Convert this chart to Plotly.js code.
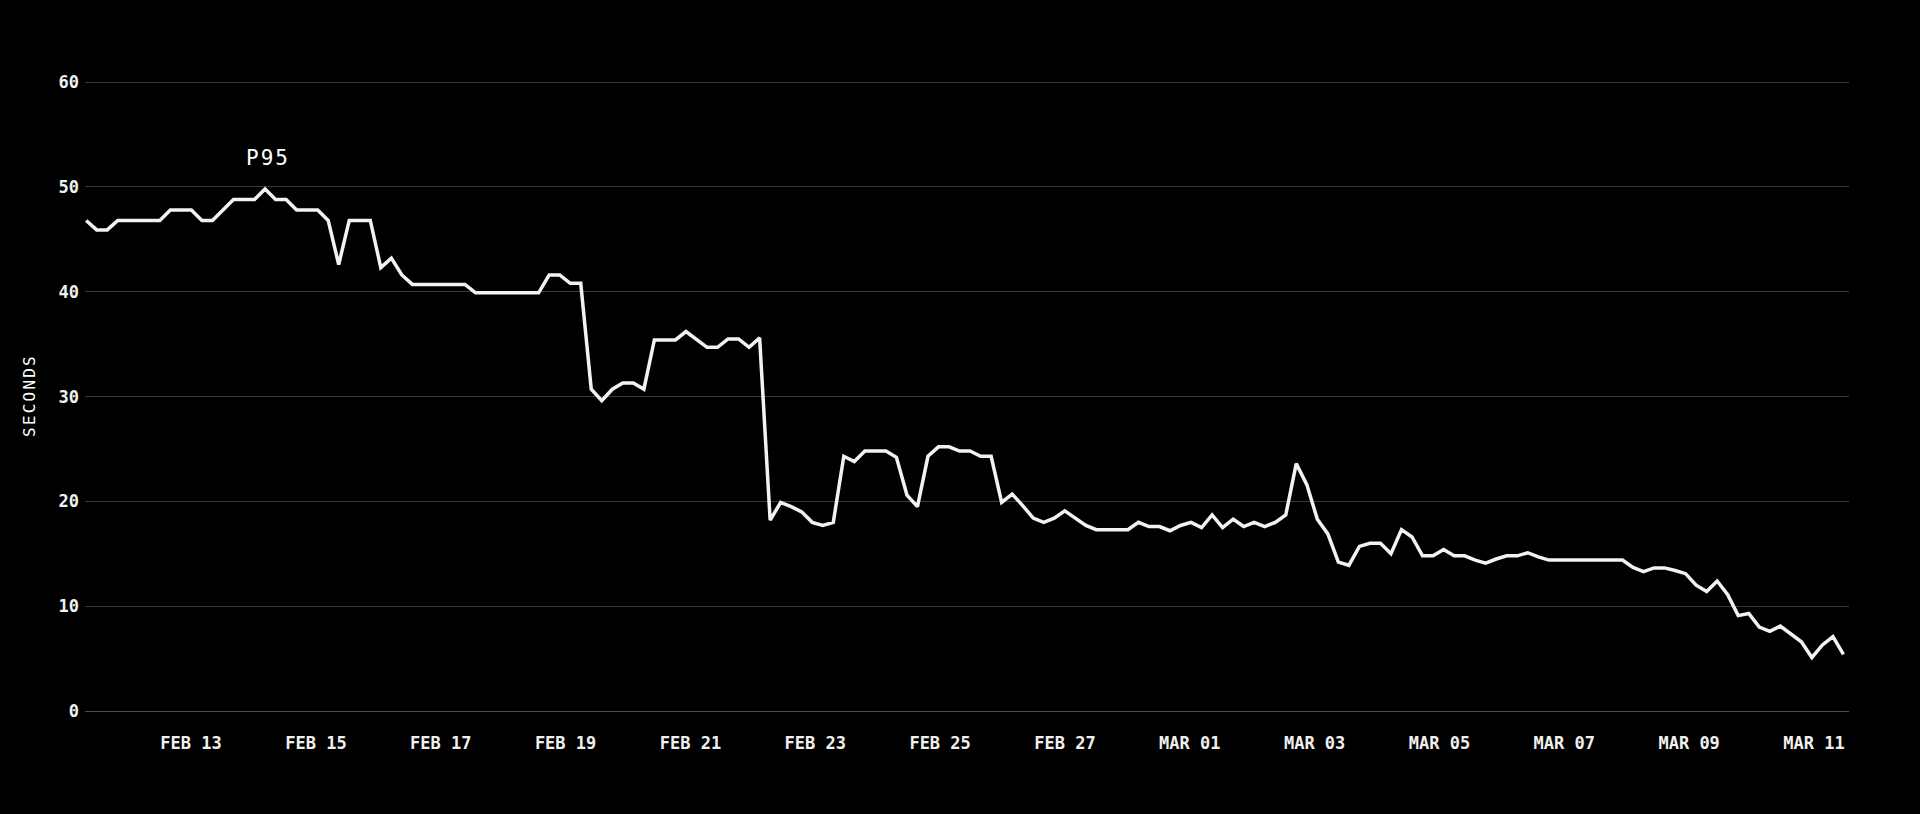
<!DOCTYPE html>
<html>
<head>
<meta charset="utf-8">
<script src="https://cdn.plot.ly/plotly-3.0.1.min.js"></script>
<style>
  html, body { margin: 0; padding: 0; background: #000; }
  #chart { width: 1920px; height: 814px; }
  .ytitle { letter-spacing: 2.2px; }
  .annotation-text { letter-spacing: 2px; }
</style>
</head>
<body>
<div id="chart"></div>
<script>
// P95 duration in seconds, one reading roughly every 4 hours
const p95Seconds = [
  46.8, 45.9, 45.9, 46.8, 46.8, 46.8, 46.8, 46.8, 47.8, 47.8,
  47.8, 46.8, 46.8, 47.8, 48.8, 48.8, 48.8, 49.8, 48.8, 48.8,
  47.8, 47.8, 47.8, 46.8, 42.6, 46.8, 46.8, 46.8, 42.3, 43.2,
  41.6, 40.7, 40.7, 40.7, 40.7, 40.7, 40.7, 39.9, 39.9, 39.9,
  39.9, 39.9, 39.9, 39.9, 41.6, 41.6, 40.8, 40.8, 30.7, 29.6,
  30.7, 31.3, 31.3, 30.7, 35.4, 35.4, 35.4, 36.2, 35.5, 34.7,
  34.7, 35.5, 35.5, 34.7, 35.6, 18.2, 19.9, 19.5, 19.0, 18.0,
  17.7, 18.0, 24.3, 23.8, 24.8, 24.8, 24.8, 24.2, 20.6, 19.5,
  24.3, 25.2, 25.2, 24.8, 24.8, 24.3, 24.3, 19.9, 20.7, 19.6,
  18.4, 18.0, 18.4, 19.1, 18.4, 17.7, 17.3, 17.3, 17.3, 17.3,
  18.0, 17.6, 17.6, 17.2, 17.7, 18.0, 17.5, 18.7, 17.5, 18.3,
  17.6, 18.0, 17.6, 18.0, 18.7, 23.6, 21.6, 18.3, 16.9, 14.2,
  13.9, 15.7, 16.0, 16.0, 15.0, 17.3, 16.6, 14.8, 14.8, 15.4,
  14.8, 14.8, 14.4, 14.1, 14.5, 14.8, 14.8, 15.1, 14.7, 14.4,
  14.4, 14.4, 14.4, 14.4, 14.4, 14.4, 14.4, 13.7, 13.3, 13.65,
  13.65, 13.4, 13.1, 12.0, 11.4, 12.4, 11.1, 9.1, 9.3, 8.0,
  7.6, 8.1, 7.3, 6.6, 5.1, 6.3, 7.1, 5.4
];

const firstReading = '2025-02-11T07:40:00Z';
const lastReading  = '2025-03-11T11:20:00Z';

const tickDates  = ['2025-02-13', '2025-02-15', '2025-02-17', '2025-02-19', '2025-02-21', '2025-02-23', '2025-02-25',
                    '2025-02-27', '2025-03-01', '2025-03-03', '2025-03-05', '2025-03-07', '2025-03-09', '2025-03-11'];
const tickLabels = ['FEB 13', 'FEB 15', 'FEB 17', 'FEB 19', 'FEB 21', 'FEB 23', 'FEB 25',
                    'FEB 27', 'MAR 01', 'MAR 03', 'MAR 05', 'MAR 07', 'MAR 09', 'MAR 11'];

const yTicks = [0, 10, 20, 30, 40, 50, 60];
const yTickLabels = ['0', '10', '20', '30', '40', '50', '60'];

const seriesLabel = 'P95';
const yTitle = 'SECONDS';

// evenly spaced reading times between first and last reading
function fmt(ms) { return new Date(ms).toISOString().replace('T', ' ').slice(0, 19); }
const t0 = Date.parse(firstReading), t1 = Date.parse(lastReading);
const n = p95Seconds.length;
const times = p95Seconds.map((_, i) => fmt(t0 + (t1 - t0) * i / (n - 1)));

const peakIndex = p95Seconds.indexOf(Math.max(...p95Seconds));

const mono = 'DejaVu Sans Mono, Liberation Mono, monospace';

const trace = {
  x: times,
  y: p95Seconds,
  type: 'scatter',
  mode: 'lines',
  line: { color: '#f2f2f2', width: 3.5 },
  hoverinfo: 'skip',
  showlegend: false
};

const layout = {
  width: 1920,
  height: 814,
  paper_bgcolor: '#000000',
  plot_bgcolor: '#000000',
  margin: { l: 85, r: 71, t: 79.7, b: 102.6, pad: 0 },
  font: { family: mono, color: '#f0f0f0', size: 16 },
  xaxis: {
    type: 'date',
    range: ['2025-02-11 07:13:00', '2025-03-11 13:28:00'],
    tickmode: 'array',
    tickvals: tickDates,
    ticktext: tickLabels,
    showgrid: false,
    zeroline: false,
    showline: false,
    ticks: '',
    ticklabelstandoff: 20,
    tickfont: { family: mono, size: 17, color: '#f0f0f0', weight: 'bold' },
    fixedrange: true
  },
  yaxis: {
    range: [0, 60.2],
    tickmode: 'array',
    tickvals: yTicks,
    ticktext: yTickLabels,
    showgrid: true,
    gridcolor: '#3a3a3a',
    gridwidth: 1,
    zeroline: true,
    zerolinecolor: '#4d4d4d',
    zerolinewidth: 1,
    showline: false,
    ticks: '',
    ticklabelstandoff: 5,
    tickfont: { family: mono, size: 17, color: '#f0f0f0', weight: 'bold' },
    title: { text: yTitle, font: { family: mono, size: 16, color: '#ffffff' }, standoff: 18 },
    fixedrange: true
  },
  annotations: [{
    x: times[peakIndex],
    y: p95Seconds[peakIndex],
    xref: 'x',
    yref: 'y',
    text: seriesLabel,
    showarrow: false,
    yanchor: 'middle',
    yshift: 31,
    xshift: 3,
    font: { family: mono, size: 21, color: '#ffffff' }
  }]
};

Plotly.newPlot('chart', [trace], layout, { displayModeBar: false, staticPlot: true });
</script>
</body>
</html>
